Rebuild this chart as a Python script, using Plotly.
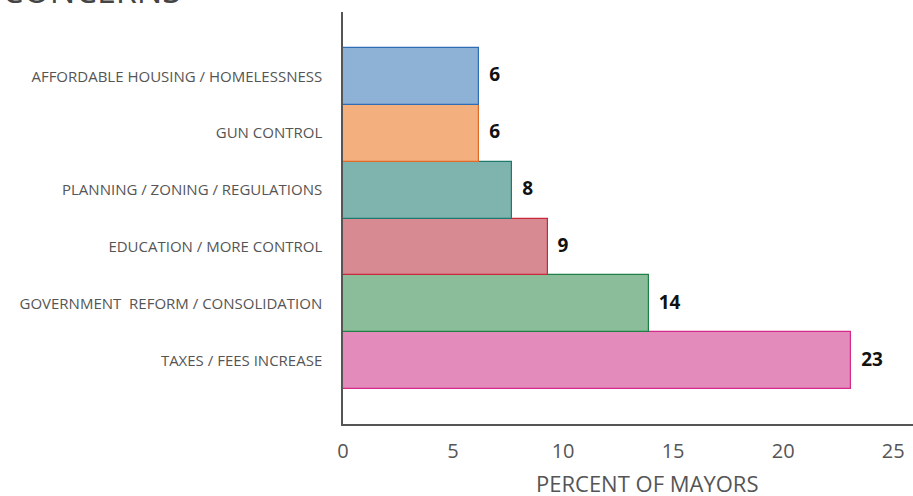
import plotly.graph_objects as go

# Concerns, listed bottom to top as drawn
concerns = [
    "TAXES / FEES INCREASE",
    "GOVERNMENT  REFORM / CONSOLIDATION",
    "EDUCATION / MORE CONTROL",
    "PLANNING / ZONING / REGULATIONS",
    "GUN CONTROL",
    "AFFORDABLE HOUSING / HOMELESSNESS",
]
percent = [23.1, 13.9, 9.3, 7.7, 6.2, 6.2]
fill_colors = ["#E38BBA", "#8CBD9A", "#D88A92", "#7FB3AE", "#F3AF7E", "#8EB1D6"]
line_colors = ["#D42A8A", "#1E8045", "#C8283C", "#1E7A6E", "#E06A2A", "#2E6DB4"]
x_ticks = [0, 5, 10, 15, 20, 25]

fig = go.Figure()
fig.add_trace(go.Bar(
    x=percent,
    y=concerns,
    orientation="h",
    marker=dict(color=fill_colors, line=dict(color=line_colors, width=1.2)),
    hoverinfo="x+y",
))

# value labels just right of each bar (invisible markers give the gap)
fig.add_trace(go.Scatter(
    x=percent,
    y=concerns,
    mode="markers+text",
    marker=dict(size=14, opacity=0),
    text=[str(round(v)) for v in percent],
    textposition="middle right",
    textfont=dict(family="Noto Sans", size=19, color="#111111", weight="bold"),
    cliponaxis=False,
    hoverinfo="skip",
))

# chart title, mostly cut off by the top edge as in the source image
fig.add_annotation(
    text="CONCERNS", xref="paper", yref="paper",
    x=-343 / 570, y=1, xanchor="left", yanchor="bottom", yshift=-3,
    showarrow=False, font=dict(family="Open Sans", size=34, color="#444444"),
)

# x axis title (sits a little right of the plot centre)
fig.add_annotation(
    text="PERCENT OF MAYORS", xref="paper", yref="paper",
    x=0.533, y=0, xanchor="center", yanchor="middle", yshift=-59,
    showarrow=False, font=dict(family="Open Sans", size=22, color="#555555"),
)

fig.update_layout(
    width=913, height=496,
    margin=dict(l=343, r=0, t=12, b=72),
    plot_bgcolor="white", paper_bgcolor="white",
    bargap=0, showlegend=False,
    xaxis=dict(
        range=[0, 25.9], tickvals=x_ticks, showgrid=False, zeroline=False,
        automargin=False,
        showline=True, linecolor="#555555", linewidth=1.5,
        ticks="outside", ticklen=8, tickcolor="rgba(0,0,0,0)",
        tickfont=dict(family="Open Sans", size=20, color="#555555"),
    ),
    yaxis=dict(
        type="category", range=[-1.11, 6.13], showgrid=False, zeroline=False,
        automargin=False,
        showline=True, linecolor="#555555", linewidth=1.5,
        ticks="outside", ticklen=16, tickcolor="rgba(0,0,0,0)",
        tickfont=dict(family="Open Sans", size=15, color="#555555"),
    ),
)

# drop the browser's default body margin so the figure sits at the page corner
fig.write_html("out.html", config={"displayModeBar": False},
               post_script="document.body.style.margin='0';")
